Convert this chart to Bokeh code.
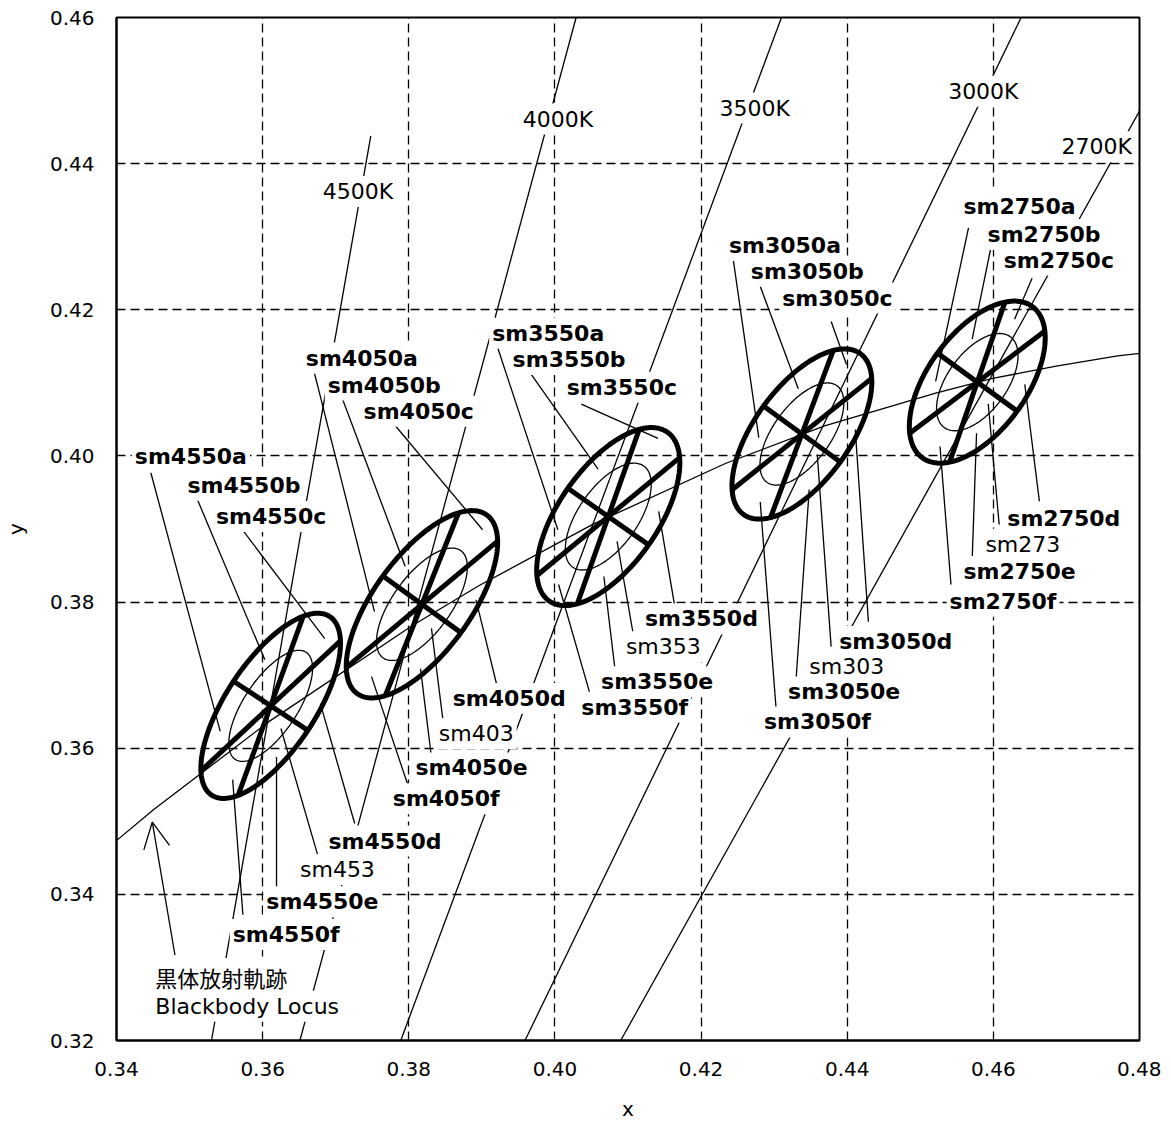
import numpy as np
from bokeh.plotting import figure
from bokeh.models import (Label, Arrow, OpenHead, FixedTicker,
                          PrintfTickFormatter, Range1d)
from bokeh.embed import file_html
from bokeh.resources import INLINE

# ---------------- data ----------------
x_ticks = [0.34, 0.36, 0.38, 0.40, 0.42, 0.44, 0.46, 0.48]
y_ticks = [0.32, 0.34, 0.36, 0.38, 0.40, 0.42, 0.44, 0.46]

# Planckian (blackbody) locus
locus_T = [5500, 5000, 4500, 4000, 3800, 3500, 3200, 3000, 2800, 2700, 2600, 2500, 2400]
locus_x = [0.3326, 0.3451, 0.3608, 0.3805, 0.3897, 0.4053, 0.4234, 0.4369, 0.4521, 0.4599, 0.4686, 0.4770, 0.4862]
locus_y = [0.3412, 0.3516, 0.3636, 0.3768, 0.3823, 0.3907, 0.3990, 0.4041, 0.4086, 0.4106, 0.4123, 0.4137, 0.4147]

# isotherm (CCT) lines
iso_names = ["4500K", "4000K", "3500K", "3000K", "2700K"]
iso_x0 = [0.3530, 0.3651, 0.3789, 0.3959, 0.4090]
iso_y0 = [0.3200, 0.3200, 0.3200, 0.3200, 0.3200]
iso_x1 = [0.3748, 0.4029, 0.4310, 0.4638, 0.4800]
iso_y1 = [0.4438, 0.4600, 0.4600, 0.4600, 0.4472]

# MacAdam-type ellipses (1-step semi axes, orientation)
groups = ["sm4550", "sm4050", "sm3550", "sm3050", "sm2750"]
inner_names = ["sm453", "sm403", "sm353", "sm303", "sm273"]
cx = [0.3611, 0.3818, 0.4073, 0.4338, 0.4578]
cy = [0.3658, 0.3797, 0.3917, 0.4030, 0.4101]
a1 = [0.00293, 0.00302, 0.00282, 0.00272, 0.00256]
b1 = [0.00122, 0.00132, 0.00135, 0.00130, 0.00135]
theta = [56.5, 54.0, 55.0, 54.0, 54.0]
outer_steps = 5
inner_steps = 3
divider_params = [30, 90, 150]   # sector boundaries (deg, ellipse parameter)

# ---------------- annotation layout ----------------
# (text, bold, x, y, leader (x0, y0, x1, y1) or None)
LABELS = [
    ("sm4550a", True, 0.3421, 0.3999, (0.3447, 0.3977, 0.3542, 0.3623)),
    ("sm4550b", True, 0.3493, 0.3960, (0.3510, 0.3942, 0.3603, 0.3721)),
    ("sm4550c", True, 0.3532, 0.3917, (0.3573, 0.3898, 0.3685, 0.3750)),
    ("sm4550d", True, 0.3686, 0.3473, (0.3726, 0.3497, 0.3679, 0.3661)),
    ("sm453", False, 0.3647, 0.3434, (0.3675, 0.3455, 0.3625, 0.3627)),
    ("sm4550e", True, 0.3601, 0.3390, (0.3619, 0.3410, 0.3619, 0.3588)),
    ("sm4550f", True, 0.3555, 0.3345, (0.3573, 0.3372, 0.3559, 0.3557)),

    ("sm4050a", True, 0.3655, 0.4134, (0.3671, 0.4113, 0.3753, 0.3787)),
    ("sm4050b", True, 0.3685, 0.4097, (0.3707, 0.4084, 0.3795, 0.3849)),
    ("sm4050c", True, 0.3734, 0.4061, (0.3781, 0.4042, 0.3901, 0.3899)),
    ("sm4050d", True, 0.3856, 0.3668, (0.3922, 0.3680, 0.3892, 0.3803)),
    ("sm403", False, 0.3837, 0.3620, (0.3847, 0.3636, 0.3831, 0.3764)),
    ("sm4050e", True, 0.3805, 0.3573, (0.3831, 0.3588, 0.3816, 0.3709)),
    ("sm4050f", True, 0.3774, 0.3531, (0.3802, 0.3540, 0.3749, 0.3698)),

    ("sm3550a", True, 0.3910, 0.4168, (0.3921, 0.4150, 0.4004, 0.3899)),
    ("sm3550b", True, 0.3938, 0.4132, (0.3963, 0.4118, 0.4059, 0.3982)),
    ("sm3550c", True, 0.4012, 0.4094, (0.4036, 0.4071, 0.4141, 0.4024)),
    ("sm3550d", True, 0.4119, 0.3777, (0.4164, 0.3794, 0.4142, 0.3924)),
    ("sm353", False, 0.4093, 0.3739, (0.4107, 0.3757, 0.4085, 0.3883)),
    ("sm3550e", True, 0.4059, 0.3691, (0.4083, 0.3701, 0.4067, 0.3835)),
    ("sm3550f", True, 0.4032, 0.3656, (0.4049, 0.3671, 0.4005, 0.3824)),

    ("sm3050a", True, 0.4234, 0.4288, (0.4244, 0.4269, 0.4279, 0.4025)),
    ("sm3050b", True, 0.4264, 0.4253, (0.4281, 0.4232, 0.4333, 0.4092)),
    ("sm3050c", True, 0.4307, 0.4216, (0.4378, 0.4184, 0.4399, 0.4125)),
    ("sm3050d", True, 0.4385, 0.3746, (0.4429, 0.3773, 0.4411, 0.4036)),
    ("sm303", False, 0.4344, 0.3712, (0.4378, 0.3739, 0.4359, 0.4002)),
    ("sm3050e", True, 0.4315, 0.3677, (0.4330, 0.3694, 0.4348, 0.3954)),
    ("sm3050f", True, 0.4282, 0.3636, (0.4303, 0.3650, 0.4281, 0.3937)),

    ("sm2750a", True, 0.4555, 0.4342, (0.4566, 0.4312, 0.4521, 0.4102)),
    ("sm2750b", True, 0.4588, 0.4303, (0.4596, 0.4282, 0.4571, 0.4160)),
    ("sm2750c", True, 0.4610, 0.4268, (0.4653, 0.4243, 0.4629, 0.4187)),
    ("sm2750d", True, 0.4615, 0.3914, (0.4663, 0.3938, 0.4643, 0.4098)),
    ("sm273", False, 0.4585, 0.3879, (0.4608, 0.3906, 0.4593, 0.4071)),
    ("sm2750e", True, 0.4555, 0.3842, (0.4571, 0.3858, 0.4577, 0.4031)),
    ("sm2750f", True, 0.4536, 0.3801, (0.4542, 0.3824, 0.4527, 0.4013)),
]
ISO_LABEL_POS = [(0.3678, 0.4362), (0.3952, 0.4461), (0.4221, 0.4476),
                 (0.4534, 0.4499), (0.4689, 0.4423)]
LOCUS_LABEL = [("黒体放射軌跡", 0.3449, 0.3287, "Noto Sans CJK JP"),
               ("Blackbody Locus", 0.3449, 0.3247, "DejaVu Sans")]
LOCUS_ARROW = (0.3480, 0.3317, 0.3449, 0.3499)

FONT = "DejaVu Sans"
THIN = 1.3
THICK = 5

# ---------------- figure ----------------
p = figure(frame_width=1023, frame_height=1023,
           x_range=Range1d(0.34, 0.48), y_range=Range1d(0.32, 0.46),
           output_backend="svg", toolbar_location=None,
           min_border_left=108, min_border_right=22,
           min_border_top=17, min_border_bottom=80,
           x_axis_label="x", y_axis_label="y")
p.background_fill_color = "white"
p.border_fill_color = "white"
p.outline_line_color = "black"
p.outline_line_width = 2
p.outline_line_alpha = 1.0

for ax in (p.xaxis[0], p.yaxis[0]):
    ax.major_tick_line_color = None
    ax.minor_tick_line_color = None
    ax.axis_line_color = "black"
    ax.axis_line_width = 2
    ax.major_label_text_font = FONT
    ax.major_label_text_font_size = "20px"
    ax.major_label_text_color = "black"
    ax.axis_label_text_font = FONT
    ax.axis_label_text_font_size = "20px"
    ax.axis_label_text_font_style = "normal"
    ax.axis_label_text_color = "black"
    ax.formatter = PrintfTickFormatter(format="%.2f")

p.xaxis.ticker = FixedTicker(ticks=x_ticks, minor_ticks=[])
p.yaxis.ticker = FixedTicker(ticks=y_ticks, minor_ticks=[])
p.xaxis.major_label_standoff = 15
p.yaxis.major_label_standoff = 16
p.xaxis.axis_label_standoff = 18
p.yaxis.axis_label_standoff = 19

for g in (p.xgrid[0], p.ygrid[0]):
    g.grid_line_color = "black"
    g.grid_line_width = 1.3
    g.grid_line_dash = "9 5"
    g.grid_line_alpha = 1.0

# isotherms
p.segment(x0=iso_x0, y0=iso_y0, x1=iso_x1, y1=iso_y1,
          line_color="black", line_width=THIN)
# blackbody locus
p.line(locus_x, locus_y, line_color="black", line_width=THIN)

# leader lines
lx0 = [l[4][0] for l in LABELS if l[4]]
ly0 = [l[4][1] for l in LABELS if l[4]]
lx1 = [l[4][2] for l in LABELS if l[4]]
ly1 = [l[4][3] for l in LABELS if l[4]]
p.segment(x0=lx0, y0=ly0, x1=lx1, y1=ly1, line_color="black", line_width=THIN)

# ellipses
t = np.radians(np.arange(0, 360, 2))


def ell_point(i, steps, tp):
    ph = np.radians(theta[i])
    A, B = steps * a1[i], steps * b1[i]
    x = cx[i] + A * np.cos(tp) * np.cos(ph) - B * np.sin(tp) * np.sin(ph)
    y = cy[i] + A * np.cos(tp) * np.sin(ph) + B * np.sin(tp) * np.cos(ph)
    return x, y


out_xs, out_ys, in_xs, in_ys = [], [], [], []
dx0, dy0, dx1, dy1 = [], [], [], []
for i in range(len(cx)):
    xo, yo = ell_point(i, outer_steps, t)
    out_xs.append(list(xo)); out_ys.append(list(yo))
    xi, yi = ell_point(i, inner_steps, t)
    in_xs.append(list(xi)); in_ys.append(list(yi))
    for d in divider_params:
        xa, ya = ell_point(i, outer_steps, np.radians(d))
        xb, yb = ell_point(i, outer_steps, np.radians(d + 180))
        dx0.append(xa); dy0.append(ya); dx1.append(xb); dy1.append(yb)

p.patches(in_xs, in_ys, fill_color=None, line_color="black", line_width=THIN)
p.segment(x0=dx0, y0=dy0, x1=dx1, y1=dy1, line_color="black",
          line_width=THICK, line_cap="butt")
p.patches(out_xs, out_ys, fill_color=None, line_color="black",
          line_width=THICK, line_join="round")

# arrow to the locus
p.add_layout(Arrow(end=OpenHead(size=26, line_width=THIN, line_color="black"),
                   x_start=LOCUS_ARROW[0], y_start=LOCUS_ARROW[1],
                   x_end=LOCUS_ARROW[2], y_end=LOCUS_ARROW[3],
                   line_color="black", line_width=THIN))


def add_label(text, x, y, bold=False, font=FONT):
    p.add_layout(Label(x=x, y=y, text=text, text_align="left",
                       text_baseline="middle", text_font=font,
                       text_font_size="22px",
                       text_font_style="bold" if bold else "normal",
                       text_color="black", background_fill_color="white",
                       padding=3))


for name, (x, y) in zip(iso_names, ISO_LABEL_POS):
    add_label(name, x, y)
for text, x, y, font in LOCUS_LABEL:
    add_label(text, x, y, font=font)
for text, bold, x, y, _ in LABELS:
    add_label(text, x, y, bold=bold)

open("out.html", "w").write(file_html(p, INLINE))
